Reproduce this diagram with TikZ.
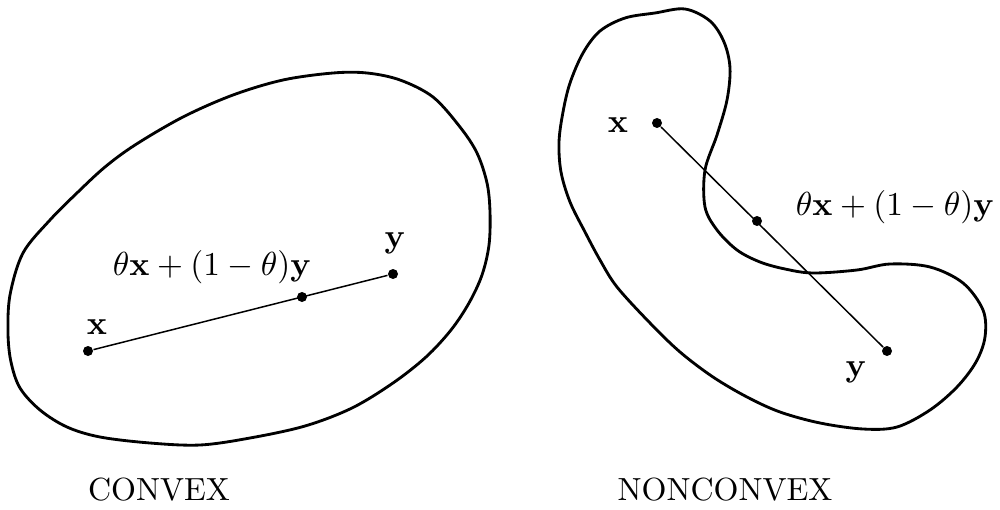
\documentclass[tikz,border=0pt]{standalone}
\begin{document}
\begin{tikzpicture}[x=0.3pt,y=-0.3pt,
  outline/.style={line width=0.85pt,line join=round},
  seg/.style={line width=0.45pt},
  dot/.style={circle,fill=black,inner sep=0pt,minimum size=3pt},
  lab/.style={font=\fontsize{9.6}{11}\selectfont,inner sep=0pt}]
\useasboundingbox (0,0) rectangle (1000,509);
% convex set
\draw[outline] plot[smooth cycle,tension=0.55] coordinates {
 (333,73) (367,73) (400,80) (433,97) (460,127) (477,153) (487,183)
 (490,212) (489,245) (482,275) (469,303) (451,330) (426,357)
 (393,383) (352,408) (305,426) (250,438) (200,445) (150,443)
 (100,437) (67,427) (40,410) (20,388) (11,362) (8,333) (10,295)
 (23,253) (50,220) (78,192) (105,167) (135,145) (183,117) (233,95)
 (283,80)};
\node[dot] (cx) at (88,351) {};
\node[dot] (cy) at (393,274) {};
\node[dot] (cm) at (302,297) {};
\draw[seg] (cx) -- (cy);
\node[lab] (lcx) at (97,327) {$\mathbf{x}$};
\node[lab] (lcy) at (395,243) {$\mathbf{y}$};
\node[lab] (lcm) at (212,267) {$\theta\mathbf{x}+(1-\theta)\mathbf{y}$};
\node[lab] (tc) at (159,490) {CONVEX};
% nonconvex set
\draw[outline] plot[smooth cycle,tension=0.55] coordinates {
 (655,13) (685,9) (710,21) (724,42) (730,68) (727,100) (717,135)
 (705,170) (705,207) (717,230) (737,250) (760,262) (785,269)
 (813,273) (857,270) (890,264) (930,267) (963,283) (983,310)
 (985,337) (976,362) (957,387) (930,410) (897,427) (863,429)
 (820,423) (780,412) (747,397) (713,377) (680,352) (650,323)
 (617,287) (600,260) (585,232) (570,202) (561,172) (559,142)
 (563,112) (570,83) (583,53) (600,31) (625,18)};
\node[dot] (nx) at (657,123) {};
\node[dot] (ny) at (887,351) {};
\node[dot] (nm) at (757,221) {};
\draw[seg] (nx) -- (ny);
\node[lab] (lnx) at (618,125) {$\mathbf{x}$};
\node[lab] (lny) at (856,372) {$\mathbf{y}$};
\node[lab] (lnm) at (895,207) {$\theta\mathbf{x}+(1-\theta)\mathbf{y}$};
\node[lab] (tn) at (725,490) {NONCONVEX};
\end{tikzpicture}
\end{document}
